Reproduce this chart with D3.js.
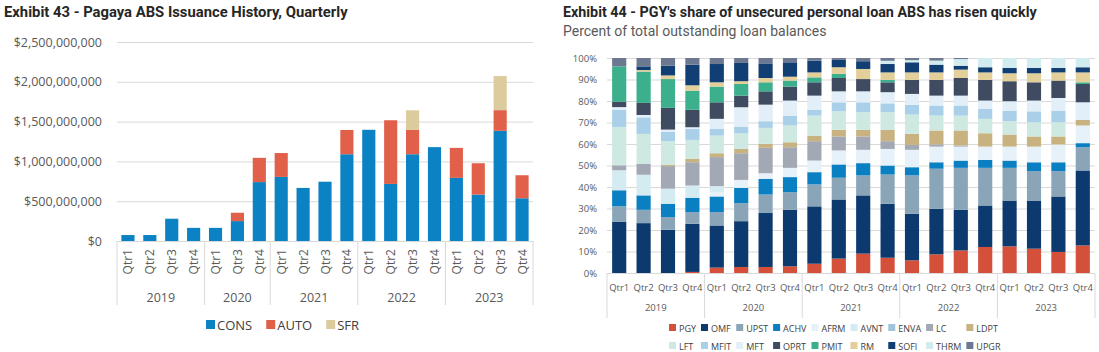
<!DOCTYPE html>
<html>
<head>
<meta charset="utf-8">
<script src="https://cdn.jsdelivr.net/npm/d3@7"></script>
<style>
  body { margin: 0; background: #fff; }
  svg { display: block; }
  text { font-family: "Open Sans", sans-serif; }
  .title { font-family: Roboto, sans-serif; font-weight: bold; fill: #262626; }
  .sub { font-family: Roboto, sans-serif; fill: #595959; }
  .grid line { stroke: #d9d9d9; }
  .grid .domain { display: none; }
</style>
</head>
<body>
<div id="chart"></div>
<script>
// ---- Exhibit 43 data (USD) ----
const issQuarters = ["Qtr1","Qtr2","Qtr3","Qtr4","Qtr1","Qtr3","Qtr4","Qtr1","Qtr2","Qtr3","Qtr4","Qtr1","Qtr2","Qtr3","Qtr4","Qtr1","Qtr2","Qtr3","Qtr4"];
const issYears = ["2019","2019","2019","2019","2020","2020","2020","2021","2021","2021","2021","2022","2022","2022","2022","2023","2023","2023","2023"];
const cons = [75e6, 75e6, 280e6, 165e6, 165e6, 250e6, 740e6, 805e6, 667e6, 745e6, 1090e6, 1397e6, 717e6, 1090e6, 1179e6, 793e6, 583e6, 1384e6, 537e6];
const auto = [0, 0, 0, 0, 0, 105e6, 305e6, 300e6, 0, 0, 305e6, 0, 800e6, 305e6, 0, 377e6, 394e6, 260e6, 289e6];
const sfr  = [0, 0, 0, 0, 0, 0, 0, 0, 0, 0, 0, 0, 0, 247e6, 0, 0, 0, 428e6, 0];
const issKeys = ["CONS", "AUTO", "SFR"];
const issColors = ["#0b82c4", "#e0604a", "#dccb9c"];

// ---- Exhibit 44 data (% of outstanding balances) ----
const shQuarters = ["Qtr1","Qtr2","Qtr3","Qtr4","Qtr1","Qtr2","Qtr3","Qtr4","Qtr1","Qtr2","Qtr3","Qtr4","Qtr1","Qtr2","Qtr3","Qtr4","Qtr1","Qtr2","Qtr3","Qtr4"];
const shYears = ["2019","2019","2019","2019","2020","2020","2020","2020","2021","2021","2021","2021","2022","2022","2022","2022","2023","2023","2023","2023"];
const lenders = ["PGY","OMF","UPST","ACHV","AFRM","AVNT","ENVA","LC","LDPT","LFT","MFIT","MFT","OPRT","PMIT","RM","SOFI","THRM","UPGR"];
const lenderColors = ["#d5503b","#0d3a6e","#8ba5b8","#0a80c3","#e6f1fa","#d4ebf1","#9fc4dc","#a2a8b4","#c8b27f","#cde9e2","#a9d0e8","#e2eef8","#3e4b60","#3caf8c","#e3cf99","#123f73","#d1ebef","#6c7890"];
const pgy  = [0, 0, 0, 0.5, 2.5, 2.8, 2.8, 3.1, 4.3, 6.7, 9.0, 7.1, 5.9, 8.7, 10.5, 12.1, 12.4, 11.3, 9.8, 12.8];
const omf  = [23.7, 23.2, 20.1, 22.4, 19.6, 21.3, 25.1, 26.3, 26.7, 27.5, 27.1, 25.1, 21.7, 21.2, 18.9, 19.3, 21.3, 22.4, 25.8, 34.9];
const upst = [7.3, 6.2, 5.9, 5.4, 6.2, 8.4, 8.6, 8.2, 10.2, 10.1, 9.3, 13.6, 17.8, 18.6, 19.5, 17.5, 15.2, 13.7, 11.8, 10.8];
const achv = [7.4, 6.7, 6.2, 6.7, 7.3, 7.1, 7.3, 7.0, 5.7, 6.2, 5.7, 4.2, 3.8, 3.0, 3.4, 3.7, 3.4, 4.1, 4.1, 1.9];
const afrm = [0, 0, 0, 0, 2.0, 3.7, 2.6, 4.3, 5.4, 6.5, 6.2, 7.7, 8.1, 7.3, 6.5, 6.2, 6.5, 7.3, 8.3, 8.2];
const avnt = [9.3, 9.6, 7.0, 5.7, 2.8, 0, 0, 0, 0, 0, 0, 0, 0, 0, 0, 0, 0, 0, 0, 0];
const enva = [0, 0, 0, 0, 0, 0, 0, 0, 0, 0, 0, 0, 0, 0, 0, 0, 0, 0, 0, 0];
const lc   = [2.3, 5.1, 10.5, 10.8, 13.5, 12.4, 11.8, 9.6, 9.0, 6.5, 6.2, 3.6, 2.3, 1.0, 0.5, 0, 0, 0, 0, 0];
const ldpt = [0, 0, 0.6, 1.6, 1.8, 2.0, 1.9, 2.3, 2.6, 3.1, 3.1, 5.3, 5.1, 6.5, 7.0, 6.2, 5.6, 4.7, 3.7, 2.6];
const lft  = [17.8, 13.9, 11.0, 8.8, 8.2, 7.3, 7.4, 7.8, 9.3, 8.6, 8.2, 8.2, 9.0, 6.9, 6.9, 6.7, 6.2, 6.6, 6.6, 0];
const mfit = [8.0, 7.7, 4.3, 5.1, 3.1, 3.1, 3.1, 4.6, 2.7, 4.2, 4.6, 4.1, 4.6, 4.7, 4.7, 4.6, 4.9, 5.1, 5.4, 0];
const mft  = [1.2, 1.1, 1.1, 0.8, 4.7, 9.0, 7.7, 7.0, 6.6, 5.1, 5.1, 5.2, 5.0, 4.6, 4.6, 3.9, 4.4, 5.0, 5.9, 8.2];
const oprt = [2.5, 5.6, 10.1, 8.1, 7.7, 5.4, 6.2, 6.5, 6.2, 6.2, 5.7, 4.6, 6.5, 7.3, 8.2, 9.6, 9.3, 8.5, 8.1, 8.5];
const pmit = [16.4, 14.6, 13.4, 8.9, 7.3, 5.4, 4.2, 2.8, 2.3, 1.9, 0, 1.1, 0, 0, 0, 0, 0, 0, 0, 0.8];
const rm   = [0, 0.7, 1.7, 2.5, 2.0, 1.3, 2.0, 1.8, 2.3, 3.1, 4.7, 3.5, 3.5, 3.5, 3.9, 3.5, 3.7, 4.2, 3.8, 4.6];
const sofi = [0, 1.7, 4.5, 9.6, 8.5, 8.5, 6.8, 6.7, 5.5, 3.4, 3.6, 3.9, 4.7, 3.6, 1.8, 2.4, 2.5, 2.5, 2.1, 2.4];
const thrm = [0, 0, 0, 0, 0, 0, 0, 0, 0, 0, 0, 1.5, 1.0, 1.9, 3.1, 4.3, 4.6, 4.6, 4.6, 4.3];
const upgr = [3.9, 3.9, 3.6, 3.1, 2.8, 2.3, 2.5, 2.0, 1.2, 0.9, 1.5, 1.3, 1.0, 1.2, 0.5, 0, 0, 0, 0, 0];
const shareSeries = [pgy, omf, upst, achv, afrm, avnt, enva, lc, ldpt, lft, mfit, mft, oprt, pmit, rm, sofi, thrm, upgr];

const width = 1099, height = 352;
const svg = d3.select("#chart").append("svg")
  .attr("width", width).attr("height", height);

// draw year separators + year labels under a band axis
function yearGroups(g, x, years, y0, y1, yText, fontSize) {
  const groups = d3.groups(years.map((yr, i) => ({ yr, i })), d => d.yr);
  const step = x.step();
  const x0 = x.range()[0];
  const bounds = [x0].concat(groups.map(([, v]) => x0 + (v[v.length - 1].i + 1) * step));
  g.selectAll(".sep").data(bounds).join("line")
    .attr("x1", d => d).attr("x2", d => d)
    .attr("y1", y0).attr("y2", y1)
    .attr("stroke", "#d9d9d9");
  g.selectAll(".yr").data(groups).join("text")
    .attr("x", ([, v]) => x0 + (v[0].i + v[v.length - 1].i + 1) / 2 * step)
    .attr("y", yText)
    .attr("text-anchor", "middle")
    .attr("font-size", fontSize)
    .attr("fill", "#595959")
    .text(([k]) => k);
}

// ================= Exhibit 43 =================
const left = svg.append("g");
left.append("text").attr("class", "title")
  .attr("x", 4).attr("y", 17).attr("font-size", 14.8)
  .text("Exhibit 43 - Pagaya ABS Issuance History, Quarterly");

const issData = cons.map((c, i) => ({ i, CONS: c, AUTO: auto[i], SFR: sfr[i] }));
const xL = d3.scaleBand().domain(d3.range(cons.length)).range([117, 533])
  .paddingInner(0.4).paddingOuter(0.2);
const yL = d3.scaleLinear().domain([0, 2.5e9]).range([241, 42]);

left.append("g").attr("class", "grid")
  .attr("transform", "translate(117,0)")
  .call(d3.axisLeft(yL).tickValues(d3.range(0, 2.5e9 + 1, 5e8))
    .tickSize(-416).tickPadding(15).tickFormat(d3.format("$,")))
  .call(g => g.selectAll("text").attr("font-size", 12.5).attr("fill", "#595959")
    .attr("font-family", "'Open Sans', sans-serif"));

const issStack = d3.stack().keys(issKeys)(issData);
left.append("g").selectAll("g").data(issStack).join("g")
  .attr("fill", (d, k) => issColors[k])
  .selectAll("rect").data(d => d).join("rect")
  .attr("x", d => xL(d.data.i))
  .attr("width", xL.bandwidth())
  .attr("y", d => yL(d[1]))
  .attr("height", d => yL(d[0]) - yL(d[1]));

left.append("g").selectAll("text").data(issQuarters).join("text")
  .attr("transform", (d, i) => `translate(${xL(i) + xL.bandwidth() / 2 + 4.5},249) rotate(-90)`)
  .attr("text-anchor", "end")
  .attr("font-size", 12)
  .attr("fill", "#595959")
  .text(d => d);

yearGroups(left.append("g"), xL, issYears, 241, 305, 302, 12.5);

const legL = left.append("g").attr("transform", "translate(206,325)");
let lx = 0;
issKeys.forEach((k, i) => {
  const it = legL.append("g").attr("transform", `translate(${lx},0)`);
  it.append("rect").attr("y", -5).attr("width", 9).attr("height", 9).attr("fill", issColors[i]);
  const t = it.append("text").attr("x", 11).attr("y", 4.5)
    .attr("font-size", 13).attr("fill", "#404040").text(k);
  lx += 11 + t.node().getComputedTextLength() + 14;
});

// ================= Exhibit 44 =================
const right = svg.append("g");
right.append("text").attr("class", "title")
  .attr("x", 563).attr("y", 17).attr("font-size", 14.3)
  .text("Exhibit 44 - PGY's share of unsecured personal loan ABS has risen quickly");
right.append("text").attr("class", "sub")
  .attr("x", 563).attr("y", 36).attr("font-size", 14)
  .text("Percent of total outstanding loan balances");

const shData = shQuarters.map((q, i) => {
  const row = { i };
  lenders.forEach((l, k) => { row[l] = shareSeries[k][i]; });
  return row;
});
const xR = d3.scaleBand().domain(d3.range(shQuarters.length)).range([607, 1095])
  .paddingInner(0.42).paddingOuter(0.21);
const yR = d3.scaleLinear().domain([0, 1]).range([273, 58]);

right.append("g").attr("class", "grid")
  .attr("transform", "translate(607,0)")
  .call(d3.axisLeft(yR).ticks(10).tickSize(-488).tickPadding(10).tickFormat(d3.format(".0%")))
  .call(g => g.selectAll("text").attr("font-size", 9.5).attr("fill", "#595959")
    .attr("font-family", "'Open Sans', sans-serif"));

const shStack = d3.stack().keys(lenders).offset(d3.stackOffsetExpand)(shData);
right.append("g").selectAll("g").data(shStack).join("g")
  .attr("fill", (d, k) => lenderColors[k])
  .selectAll("rect").data(d => d).join("rect")
  .attr("x", d => xR(d.data.i))
  .attr("width", xR.bandwidth())
  .attr("y", d => yR(d[1]))
  .attr("height", d => yR(d[0]) - yR(d[1]));

right.append("g").selectAll("text").data(shQuarters).join("text")
  .attr("x", (d, i) => xR(i) + xR.bandwidth() / 2)
  .attr("y", 291)
  .attr("text-anchor", "middle")
  .attr("font-size", 9.5)
  .attr("fill", "#595959")
  .text(d => d);

yearGroups(right.append("g"), xR, shYears, 273, 318, 311, 9.5);

// legend: two rows, columns sized by the widest label in each column
const legR = right.append("g").attr("transform", "translate(669,328)");
const perRow = 9;
const meas = legR.append("text").attr("font-size", 9);
const widths = lenders.map(l => meas.text(l).node().getComputedTextLength());
meas.remove();
let cx = 0;
for (let c = 0; c < perRow; c++) {
  const colW = d3.max([widths[c], widths[c + perRow] || 0]);
  [c, c + perRow].forEach((k, r) => {
    if (k >= lenders.length) return;
    const it = legR.append("g").attr("transform", `translate(${cx},${r * 18})`);
    it.append("rect").attr("y", -4).attr("width", 7).attr("height", 7).attr("fill", lenderColors[k]);
    it.append("text").attr("x", 10).attr("y", 3.5)
      .attr("font-size", 9).attr("fill", "#404040").text(lenders[k]);
  });
  cx += 10 + colW + 5;
}
</script>
</body>
</html>
